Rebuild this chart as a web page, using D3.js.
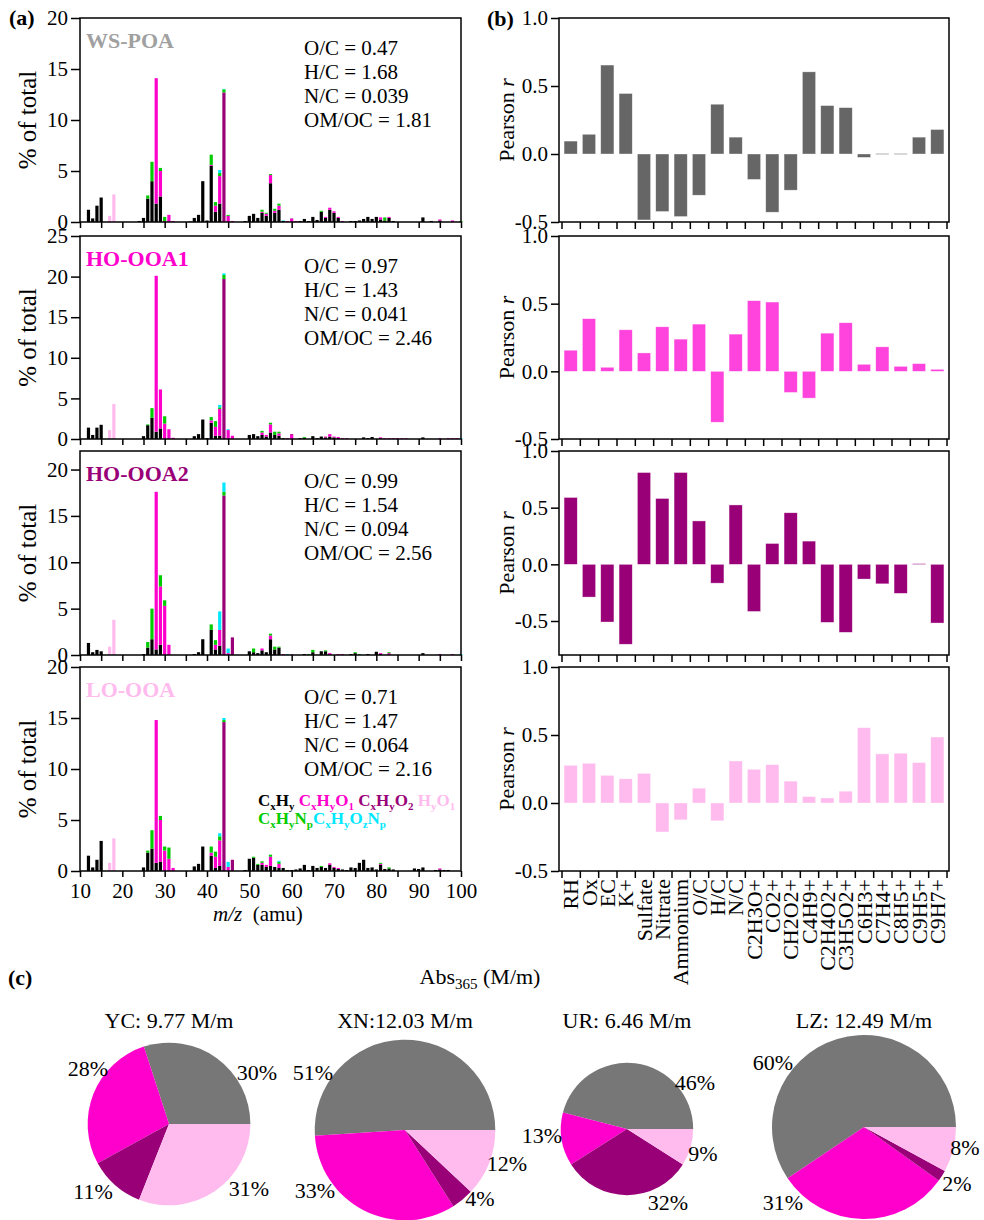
<!DOCTYPE html>
<html>
<head>
<meta charset="utf-8">
<script src="https://cdn.jsdelivr.net/npm/d3@7"></script>
<style>
  body { margin: 0; background: #fff; }
  text { font-family: "Liberation Serif", "Times New Roman", serif; }
</style>
</head>
<body>
<svg id="chart" width="984" height="1220"></svg>
<script>
// ---- data: panel (a) mass spectra, [m/z, % of total] per ion family ----
var families = ["CxHy", "CxHyO1", "CxHyO2", "HyO1", "CxHyNp", "CxHyOzNp"];
var familyLabels = ["C_xH_y", "C_xH_yO_1", "C_xH_yO_2", "H_yO_1", "C_xH_yN_p", "C_xH_yO_zN_p"];
var factors = ["WS-POA", "HO-OOA1", "HO-OOA2", "LO-OOA"];
var factorYMax = [20, 25, 22, 20];
var ratioOC = [0.47, 0.97, 0.99, 0.71];
var ratioHC = [1.68, 1.43, 1.54, 1.47];
var ratioNC = [0.039, 0.041, 0.094, 0.064];
var ratioOMOC = [1.81, 2.46, 2.56, 2.16];

var poaCH = [[12,1.2],[13,0.35],[14,1.6],[15,2.4],[24,0.1],[25,0.4],[26,2.3],[27,4.0],[28,1.8],[29,2.5],[36,0.05],[37,0.4],[38,0.7],[39,4.0],[40,0.15],[41,5.5],[42,1.0],[43,1.8],[49,0.1],[50,0.6],[51,0.8],[52,0.4],[53,0.9],[54,0.6],[55,3.8],[56,0.9],[57,1.2],[58,0.1],[62,0.1],[63,0.3],[64,0.1],[65,0.5],[66,0.2],[67,1.0],[68,0.4],[69,1.2],[70,0.9],[71,0.4],[74,0.1],[75,0.1],[76,0.15],[77,0.3],[78,0.5],[79,0.3],[80,0.5],[81,0.25],[82,0.15],[83,0.4],[84,0.1],[91,0.45],[93,0.1],[95,0.15]];
var poaO1 = [[28,12.3],[29,2.5],[30,0.1],[31,0.7],[32,0.1],[41,0.1],[42,0.6],[43,2.7],[45,0.6],[46,0.1],[53,0.1],[54,0.2],[55,0.8],[56,0.2],[57,0.4],[59,0.1],[60,0.3],[61,0.1],[68,0.1],[69,0.2],[70,0.15],[71,0.1],[72,0.1],[81,0.2],[83,0.1],[95,0.1],[98,0.15]];
var poaO2 = [[44,12.7],[60,0.05]];
var poaHO = [[17,0.6],[18,2.7]];
var poaN = [[26,0.3],[27,1.9],[29,0.3],[30,0.4],[41,1.0],[42,0.35],[43,0.3],[44,0.3],[45,0.1],[53,0.2],[54,0.1],[55,0.1],[56,0.2],[57,0.2],[67,0.1],[82,0.3],[100,0.1]];
var poaON = [[43,0.3],[44,0.05],[58,0.05]];

var ooa1CH = [[12,1.4],[13,0.5],[14,1.4],[15,1.75],[25,0.35],[26,1.7],[27,2.6],[28,0.9],[29,1.3],[37,0.35],[38,0.6],[39,2.4],[40,0.1],[41,2.0],[42,0.4],[43,0.4],[50,0.5],[51,0.6],[52,0.35],[53,0.5],[54,0.3],[55,0.8],[56,0.5],[57,0.4],[58,0.1],[62,0.1],[63,0.15],[65,0.35],[66,0.1],[67,0.3],[68,0.2],[69,0.3],[70,0.2],[71,0.1],[77,0.2],[78,0.1],[79,0.25],[81,0.1],[91,0.2]];
var ooa1O1 = [[28,19.2],[29,4.8],[30,1.9],[31,1.2],[32,0.15],[41,0.3],[42,1.1],[43,3.3],[45,1.1],[46,0.4],[53,0.3],[54,0.2],[55,1.0],[57,0.3],[59,0.1],[60,0.5],[68,0.1],[69,0.3],[70,0.1],[71,0.15],[72,0.1],[73,0.1],[81,0.1],[82,0.1],[83,0.1],[84,0.1],[85,0.1],[86,0.08],[87,0.08],[95,0.1],[97,0.1],[98,0.1],[99,0.1]];
var ooa1O2 = [[44,19.7],[60,0.1]];
var ooa1HO = [[17,1.1],[18,4.3]];
var ooa1N = [[26,0.1],[27,1.2],[30,0.9],[41,0.4],[42,0.7],[43,0.2],[44,0.5],[53,0.2],[55,0.2],[56,0.4],[57,0.2],[63,0.1]];
var ooa1ON = [[43,0.3],[44,0.2],[45,0.1],[100,0.1]];

var ooa2CH = [[12,1.3],[13,0.3],[14,0.55],[15,0.4],[25,0.1],[26,0.8],[27,1.7],[28,0.6],[29,1.1],[37,0.1],[38,0.3],[39,1.7],[41,2.7],[42,0.6],[43,1.0],[50,0.4],[51,0.3],[52,0.2],[53,0.5],[54,0.3],[55,1.7],[56,0.6],[57,0.8],[63,0.1],[65,0.3],[67,0.4],[68,0.4],[74,0.1],[75,0.2],[78,0.1],[80,0.35],[81,0.1],[91,0.2]];
var ooa2O1 = [[28,17.0],[29,6.3],[30,5.3],[31,1.1],[42,0.5],[43,1.7],[45,0.2],[53,0.2],[55,0.4],[58,0.1],[69,0.2],[71,0.1],[72,0.1],[81,0.1],[83,0.2],[95,0.1],[98,0.1]];
var ooa2O2 = [[44,17.2],[46,1.9],[60,0.05]];
var ooa2HO = [[17,0.9],[18,3.8]];
var ooa2N = [[26,0.6],[27,3.3],[29,1.2],[30,0.6],[41,0.6],[42,0.5],[44,0.4],[51,0.4],[55,0.2],[56,0.3],[57,0.1],[64,0.1],[65,0.25],[68,0.1],[75,0.1],[76,0.1],[83,0.1]];
var ooa2ON = [[43,2.0],[44,1.0],[45,0.5],[59,0.1],[100,0.1]];

var looaCH = [[12,1.5],[13,0.35],[14,1.1],[15,2.95],[25,0.35],[26,1.8],[27,2.2],[28,0.8],[29,0.9],[37,0.45],[38,0.7],[39,2.4],[41,1.5],[42,0.3],[43,0.5],[49,0.1],[50,1.2],[51,1.3],[52,0.6],[53,0.6],[54,0.4],[55,0.5],[56,0.4],[57,0.3],[58,0.3],[59,0.1],[60,0.1],[61,0.15],[62,0.25],[63,0.6],[64,0.1],[65,0.5],[66,0.3],[67,0.4],[68,0.3],[69,0.6],[70,0.3],[71,0.2],[72,0.15],[73,0.1],[74,0.35],[75,0.3],[76,0.8],[77,1.1],[78,0.3],[79,0.35],[80,0.15],[81,0.6],[82,0.2],[83,0.25],[84,0.15],[89,0.25],[90,0.2],[91,0.35],[94,0.1],[95,0.15],[96,0.1],[97,0.1]];
var looaO1 = [[28,14.0],[29,4.1],[30,2.0],[31,1.2],[32,0.3],[41,0.3],[42,1.1],[43,2.5],[45,0.4],[53,0.2],[54,0.2],[55,0.9],[57,0.4],[69,0.15],[70,0.1],[71,0.1],[81,0.1],[95,0.1]];
var looaO2 = [[44,14.6],[46,1.1]];
var looaHO = [[17,0.8],[18,3.2]];
var looaN = [[26,0.2],[27,1.8],[29,0.4],[30,0.4],[31,1.1],[41,0.6],[42,0.5],[43,0.4],[44,0.2],[51,0.1],[52,0.1],[53,0.15],[55,0.2],[57,0.2],[67,0.1],[81,0.1],[83,0.1]];
var looaON = [[43,0.3],[44,0.2],[45,0.5],[57,0.1]];

var spectra = [
  [poaCH, poaO1, poaO2, poaHO, poaN, poaON],
  [ooa1CH, ooa1O1, ooa1O2, ooa1HO, ooa1N, ooa1ON],
  [ooa2CH, ooa2O1, ooa2O2, ooa2HO, ooa2N, ooa2ON],
  [looaCH, looaO1, looaO2, looaHO, looaN, looaON]
];

// ---- data: panel (b) Pearson r ----
var corrCats = ["RH", "Ox", "EC", "K+", "Sulfate", "Nitrate", "Ammonium", "O/C", "H/C", "N/C",
  "C2H3O+", "CO2+", "CH2O2+", "C4H9+", "C2H4O2+", "C3H5O2+", "C6H3+", "C7H4+", "C8H5+", "C9H5+", "C9H7+"];
var rPOA  = [0.095, 0.145, 0.654, 0.445, -0.485, -0.423, -0.46, -0.303, 0.366, 0.124, -0.187, -0.428, -0.266, 0.604, 0.356, 0.341, -0.025, 0.003, 0.003, 0.124, 0.18];
var rOOA1 = [0.156, 0.389, 0.03, 0.307, 0.136, 0.329, 0.238, 0.349, -0.376, 0.275, 0.522, 0.512, -0.156, -0.198, 0.282, 0.359, 0.052, 0.181, 0.037, 0.057, 0.015];
var rOOA2 = [0.59, -0.289, -0.509, -0.705, 0.81, 0.581, 0.81, 0.383, -0.166, 0.524, -0.416, 0.184, 0.455, 0.205, -0.512, -0.6, -0.13, -0.172, -0.256, 0.006, -0.518];
var rLOOA = [0.277, 0.292, 0.203, 0.178, 0.218, -0.213, -0.124, 0.109, -0.131, 0.309, 0.248, 0.282, 0.161, 0.047, 0.037, 0.087, 0.554, 0.361, 0.366, 0.297, 0.485];
var rSeries = [rPOA, rOOA1, rOOA2, rLOOA];
var rDomains = [[-0.5, 1], [-0.5, 1], [-0.8, 1], [-0.5, 1]];
var rTicks = [-0.5, 0, 0.5, 1];

// ---- data: panel (c) Abs365 pies ----
var sites = ["YC", "XN", "UR", "LZ"];
var siteTitles = ["YC: 9.77 M/m", "XN:12.03 M/m", "UR: 6.46 M/m", "LZ: 12.49 M/m"];
var siteAbs = [9.77, 12.03, 6.46, 12.49];
var siteShares = [[30, 28, 11, 31], [51, 33, 4, 12], [46, 13, 32, 9], [60, 31, 2, 8]];

// ---- styles / layout ----
var familyColors = ["#000000", "#ff00cc", "#990077", "#ffbbee", "#00cc00", "#00e8ff"];
var factorColors = ["#a0a0a0", "#ff00cc", "#990077", "#ffbbee"];
var corrColors = ["#666666", "#ff44dd", "#990077", "#ffbbee"];
var pieColors = ["#777777", "#ff00cc", "#990077", "#ffbbee"];

var panelTop = [18, 236, 451, 667];
var panelBot = [222, 439, 655, 871];
var aLeft = 80, aRight = 461, bLeft = 559, bRight = 949;

var pieCX = [169, 405, 627, 864];
var pieCY = [1124, 1130, 1129, 1127];
var pieLabelOffsets = [
  [[88, -52], [-81, -56], [-76, 67], [80, 64]],
  [[-92, -58], [-90, 60], [75, 68], [102, 33]],
  [[68, -47], [-85, 6], [41, 73], [76, 24]],
  [[-91, -65], [-81, 75], [93, 56], [101, 20]]
];

var svg = d3.select("#chart");

function styleAxis(g, size) {
  g.select(".domain").remove();
  g.attr("font-family", null).attr("font-size", null);
  g.selectAll("line").attr("stroke", "#000").attr("stroke-width", 1.5);
  g.selectAll("text").attr("font-size", size).attr("fill", "#000");
}

// ---- panel (a) ----
var xA = d3.scaleLinear().domain([10, 100]).range([aLeft, aRight]);
var mzList = d3.range(10, 101);

factors.forEach(function(name, i) {
  var y = d3.scaleLinear().domain([0, factorYMax[i]]).range([panelBot[i], panelTop[i]]);
  var rows = mzList.map(function(mz) {
    var row = { mz: mz };
    families.forEach(function(fam, k) {
      var hit = spectra[i][k].find(function(p) { return p[0] === mz; });
      row[fam] = hit ? hit[1] : 0;
    });
    return row;
  });
  var layers = d3.stack().keys(families)(rows);
  var g = svg.append("g");

  g.selectAll("g.layer").data(layers).enter().append("g")
    .attr("fill", function(d, k) { return familyColors[k]; })
    .selectAll("rect")
    .data(function(d) { return d.filter(function(p) { return p[1] > p[0]; }); })
    .enter().append("rect")
    .attr("x", function(p) { return xA(p.data.mz) - 1.6; })
    .attr("width", 3.2)
    .attr("y", function(p) { return y(p[1]); })
    .attr("height", function(p) { return y(p[0]) - y(p[1]); });

  g.append("rect")
    .attr("x", aLeft).attr("y", panelTop[i])
    .attr("width", aRight - aLeft).attr("height", panelBot[i] - panelTop[i])
    .attr("fill", "none").attr("stroke", "#000").attr("stroke-width", 1.5);

  var yAx = g.append("g").attr("transform", "translate(" + aLeft + ",0)")
    .call(d3.axisLeft(y).tickValues(d3.range(0, factorYMax[i] + 0.1, 5)).tickSize(9).tickPadding(3).tickFormat(d3.format("d")));
  styleAxis(yAx, 21);

  var last = i === factors.length - 1;
  var xAx = g.append("g").attr("transform", "translate(0," + panelBot[i] + ")")
    .call(d3.axisBottom(xA).tickValues(d3.range(10, 101, 5)).tickSize(6).tickPadding(6)
      .tickFormat(function(d) { return last && d % 10 === 0 ? d : ""; }));
  styleAxis(xAx, 21);

  g.append("text")
    .attr("transform", "translate(36," + (panelTop[i] + panelBot[i]) / 2 + ") rotate(-90)")
    .attr("text-anchor", "middle").attr("font-size", 25)
    .text("% of total");

  g.append("text")
    .attr("x", 86).attr("y", panelTop[i] + 30)
    .attr("font-size", 22).attr("font-weight", "bold").attr("fill", factorColors[i])
    .text(name);

  var stats = ["O/C = " + ratioOC[i].toFixed(2), "H/C = " + ratioHC[i].toFixed(2),
               "N/C = " + ratioNC[i].toFixed(3), "OM/OC = " + ratioOMOC[i].toFixed(2)];
  g.selectAll("text.stat").data(stats).enter().append("text")
    .attr("class", "stat")
    .attr("x", 304).attr("y", function(d, k) { return panelTop[i] + 37 + k * 24; })
    .attr("font-size", 21).text(function(d) { return d; });
});

// legend for ion families (inside LO-OOA panel)
function writeFormulas(el, idx, sep) {
  var low = false;
  idx.forEach(function(k, n) {
    var parts = [];
    if (n > 0 && sep) parts.push({ t: sep, sub: false });
    var s = familyLabels[k];
    for (var c = 0; c < s.length; c++) {
      if (s[c] === "_") { parts.push({ t: s[++c], sub: true }); }
      else parts.push({ t: s[c], sub: false });
    }
    parts.forEach(function(p) {
      var dy = 0;
      if (p.sub && !low) dy = 4;
      if (!p.sub && low) dy = -4;
      low = p.sub;
      el.append("tspan").attr("dy", dy).attr("font-size", p.sub ? 11 : 17)
        .attr("fill", familyColors[k]).text(p.t);
    });
  });
}
var leg1 = svg.append("text").attr("x", 258).attr("y", 806).attr("font-weight", "bold").style("white-space", "pre");
writeFormulas(leg1, [0, 1, 2, 3], " ");
var leg2 = svg.append("text").attr("x", 258).attr("y", 824).attr("font-weight", "bold").style("white-space", "pre");
writeFormulas(leg2, [4, 5], "");

var xLab = svg.append("text").attr("x", 213).attr("y", 921).attr("font-size", 21).style("white-space", "pre");
xLab.append("tspan").attr("font-style", "italic").text("m/z");
xLab.append("tspan").text("  (amu)");

svg.append("text").attr("x", 9).attr("y", 25).attr("font-size", 22).attr("font-weight", "bold").text("(a)");

// ---- panel (b) ----
var xB = d3.scaleBand().domain(corrCats).range([561.5, 946.5]).paddingInner(0.28).paddingOuter(0.14);
var xBTicks = d3.scaleLinear().domain([0, corrCats.length]).range([561.5, 946.5]);

rSeries.forEach(function(vals, i) {
  var y = d3.scaleLinear().domain(rDomains[i]).range([panelBot[i], panelTop[i]]);
  var g = svg.append("g");
  g.selectAll("rect.bar").data(vals).enter().append("rect")
    .attr("class", "bar")
    .attr("x", function(d, k) { return xB(corrCats[k]); })
    .attr("width", xB.bandwidth())
    .attr("y", function(d) { return y(Math.max(0, d)); })
    .attr("height", function(d) { return Math.max(0.8, Math.abs(y(d) - y(0))); })
    .attr("fill", corrColors[i])
    .attr("stroke", "#ffffff").attr("stroke-width", 0.6).attr("stroke-opacity", 0.6);

  g.append("rect")
    .attr("x", bLeft).attr("y", panelTop[i])
    .attr("width", bRight - bLeft).attr("height", panelBot[i] - panelTop[i])
    .attr("fill", "none").attr("stroke", "#000").attr("stroke-width", 1.5);

  var yAx = g.append("g").attr("transform", "translate(" + bLeft + ",0)")
    .call(d3.axisLeft(y).tickValues(rTicks).tickSize(8).tickPadding(3)
      .tickFormat(function(d) { return d.toFixed(1); }));
  styleAxis(yAx, 21);

  var xAx = g.append("g").attr("transform", "translate(0," + panelBot[i] + ")")
    .call(d3.axisBottom(xBTicks).tickValues(d3.range(0, corrCats.length + 1)).tickSize(7).tickFormat(""));
  styleAxis(xAx, 21);

  var lab = g.append("text")
    .attr("transform", "translate(514," + (panelTop[i] + panelBot[i]) / 2 + ") rotate(-90)")
    .attr("text-anchor", "middle").attr("font-size", 22);
  lab.append("tspan").text("Pearson ");
  lab.append("tspan").attr("font-style", "italic").text("r");
});

svg.append("g").selectAll("text").data(corrCats).enter().append("text")
  .attr("transform", function(d) {
    return "translate(" + (xB(d) + xB.bandwidth() / 2) + "," + (panelBot[3] + 8) + ") rotate(-90)";
  })
  .attr("text-anchor", "end").attr("dy", "0.35em").attr("font-size", 22)
  .text(function(d) { return d; });

svg.append("text").attr("x", 487).attr("y", 26).attr("font-size", 22).attr("font-weight", "bold").text("(b)");

// ---- panel (c) ----
svg.append("text").attr("x", 8).attr("y", 985).attr("font-size", 22).attr("font-weight", "bold").text("(c)");
var absLab = svg.append("text").attr("x", 480).attr("y", 984).attr("text-anchor", "middle").attr("font-size", 22);
absLab.append("tspan").text("Abs");
absLab.append("tspan").attr("font-size", 15).attr("dy", 5).text("365");
absLab.append("tspan").attr("dy", -5).text(" (M/m)");

var rPie = d3.scaleSqrt().domain([0, d3.max(siteAbs)]).range([0, 92]);
var pieGen = d3.pie().sort(null).startAngle(Math.PI / 2).endAngle(Math.PI / 2 - 2 * Math.PI);

sites.forEach(function(site, i) {
  var g = svg.append("g").attr("transform", "translate(" + pieCX[i] + "," + pieCY[i] + ")");
  var arc = d3.arc().innerRadius(0).outerRadius(rPie(siteAbs[i]));
  g.selectAll("path").data(pieGen(siteShares[i])).enter().append("path")
    .attr("d", arc).attr("fill", function(d, k) { return pieColors[k]; });
  g.selectAll("text.pct").data(siteShares[i]).enter().append("text")
    .attr("class", "pct")
    .attr("x", function(d, k) { return pieLabelOffsets[i][k][0]; })
    .attr("y", function(d, k) { return pieLabelOffsets[i][k][1]; })
    .attr("dy", "0.35em").attr("text-anchor", "middle").attr("font-size", 22)
    .text(function(d) { return d + "%"; });
  svg.append("text").attr("x", pieCX[i]).attr("y", 1028).attr("text-anchor", "middle")
    .attr("font-size", 22).text(siteTitles[i]);
});
</script>
</body>
</html>
